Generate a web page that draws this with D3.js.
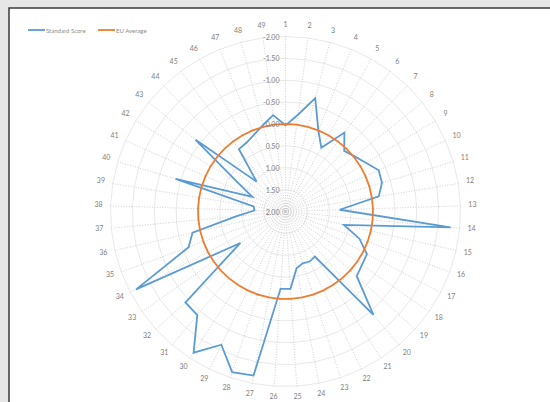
<!DOCTYPE html>
<html>
<head>
<meta charset="utf-8">
<script src="https://cdn.jsdelivr.net/npm/d3@7"></script>
<style>
  html, body { margin: 0; padding: 0; background: #e6e6e6; }
  svg { display: block; font-family: Lato, "Open Sans", sans-serif; }
</style>
</head>
<body>
<main></main>
<script>
// spoke labels
const categories = [1, 2, 3, 4, 5, 6, 7, 8, 9, 10, 11, 12, 13, 14, 15, 16, 17, 18, 19, 20,
    21, 22, 23, 24, 25, 26, 27, 28, 29, 30, 31, 32, 33, 34, 35, 36, 37, 38, 39, 40,
    41, 42, 43, 44, 45, 46, 47, 48, 49]

const standardScore = [0.03, -0.23, -0.68, 0.00, 0.33, -0.25, 0.07, -0.02, -0.15, -0.33,
    -0.30, -0.16, 0.76, -1.79, 0.63, 0.20, -0.10, -0.13, -0.20, -1.10,
    0.77, 0.73, 0.75, 0.68, 0.23, 0.23, -1.82, -1.87, -1.38, -1.85,
    -1.11, -1.09, 0.74, -1.85, -0.36, -0.18, 0.88, 1.29, 1.26, -0.62,
    1.17, 0.72, -0.63, 1.05, 0.22, 0.19, 0.10, -0.04, -0.22]

const euAverage = [0, 0, 0, 0, 0, 0, 0, 0, 0, 0, 0, 0, 0, 0, 0, 0, 0, 0, 0, 0,
    0, 0, 0, 0, 0, 0, 0, 0, 0, 0, 0, 0, 0, 0, 0, 0, 0, 0, 0, 0,
    0, 0, 0, 0, 0, 0, 0, 0, 0]

const tickValues = [-2, -1.5, -1, -0.5, 0, 0.5, 1, 1.5, 2]

const seriesNames = ["Standard Score", "EU Average"]
const seriesColors = ["#5b9bd5", "#ed7d31"]

const width = 550
const height = 402
const cx = 285.5
const cy = 211.5
const R = 175

let svg = d3.select("main")
    .append("svg")
    .attr("width", width)
    .attr("height", height)

// white chart panel inside the grey frame
svg.append("rect")
    .attr("x", 9).attr("y", 8)
    .attr("width", width).attr("height", height)
    .attr("fill", "#fff")
    .attr("stroke", "#3a3a3a")
    .attr("stroke-width", 1.5)

let g = svg.append("g")
    .attr("transform", `translate(${cx}, ${cy})`)

// axis runs reversed: -2 on the outside, 2 in the middle
let rScale = d3.scaleLinear()
    .domain([2, -2])
    .range([0, R])

let angle = d3.scaleLinear()
    .domain([0, categories.length])
    .range([0, 2 * Math.PI])

let radial = d3.lineRadial()
    .angle((d, i) => angle(i))
    .radius(d => rScale(d))
    .curve(d3.curveLinearClosed)

// ring gridlines
g.append("g")
    .selectAll("path")
    .data(tickValues.slice(0, -1))
    .enter()
    .append("path")
    .attr("d", t => radial(categories.map(() => t)))
    .attr("fill", "none")
    .attr("stroke", "#e2e2e2")
    .attr("stroke-width", 0.8)

// dotted spokes
g.append("g")
    .selectAll("line")
    .data(categories)
    .enter()
    .append("line")
    .attr("x1", 0).attr("y1", 0)
    .attr("x2", (d, i) => Math.sin(angle(i)) * rScale(-2))
    .attr("y2", (d, i) => -Math.cos(angle(i)) * rScale(-2))
    .attr("stroke", "#c4c4c4")
    .attr("stroke-width", 0.8)
    .attr("stroke-dasharray", "1,1.6")

// spoke labels
g.append("g")
    .selectAll("text")
    .data(categories)
    .enter()
    .append("text")
    .attr("x", (d, i) => Math.sin(angle(i)) * (rScale(-2) + 9) + Math.sin(angle(i)) * 3)
    .attr("y", (d, i) => -Math.cos(angle(i)) * (rScale(-2) + 9) - Math.cos(angle(i)) * 2.5 - 1.5)
    .attr("text-anchor", "middle")
    .attr("dominant-baseline", "central")
    .attr("font-size", 7)
    .attr("fill", "#808080")
    .text(d => d)

// series
let series = [standardScore, euAverage]
g.append("g")
    .selectAll("path")
    .data(series)
    .enter()
    .append("path")
    .attr("d", d => radial(d))
    .attr("fill", "none")
    .attr("stroke", (d, i) => seriesColors[i])
    .attr("stroke-width", 1.8)
    .attr("stroke-linejoin", "miter")

// value tick labels along the first spoke
g.append("g")
    .selectAll("text")
    .data(tickValues)
    .enter()
    .append("text")
    .attr("x", -6)
    .attr("y", t => -rScale(t))
    .attr("text-anchor", "end")
    .attr("dominant-baseline", "central")
    .attr("font-size", 7)
    .attr("fill", "#808080")
    .text(t => d3.format(".2f")(t).replace("−", "-"))

// legend
let legend = svg.append("g")
    .attr("transform", "translate(28, 30)")

let items = legend.selectAll("g")
    .data(seriesNames)
    .enter()
    .append("g")
    .attr("transform", (d, i) => `translate(${i * 70}, 0)`)

items.append("line")
    .attr("x1", 0).attr("x2", 17)
    .attr("stroke", (d, i) => seriesColors[i])
    .attr("stroke-width", 1.8)

items.append("text")
    .attr("x", 18)
    .attr("dominant-baseline", "central")
    .attr("font-size", 6)
    .attr("fill", "#8c8c8c")
    .text(d => d)
</script>
</body>
</html>
